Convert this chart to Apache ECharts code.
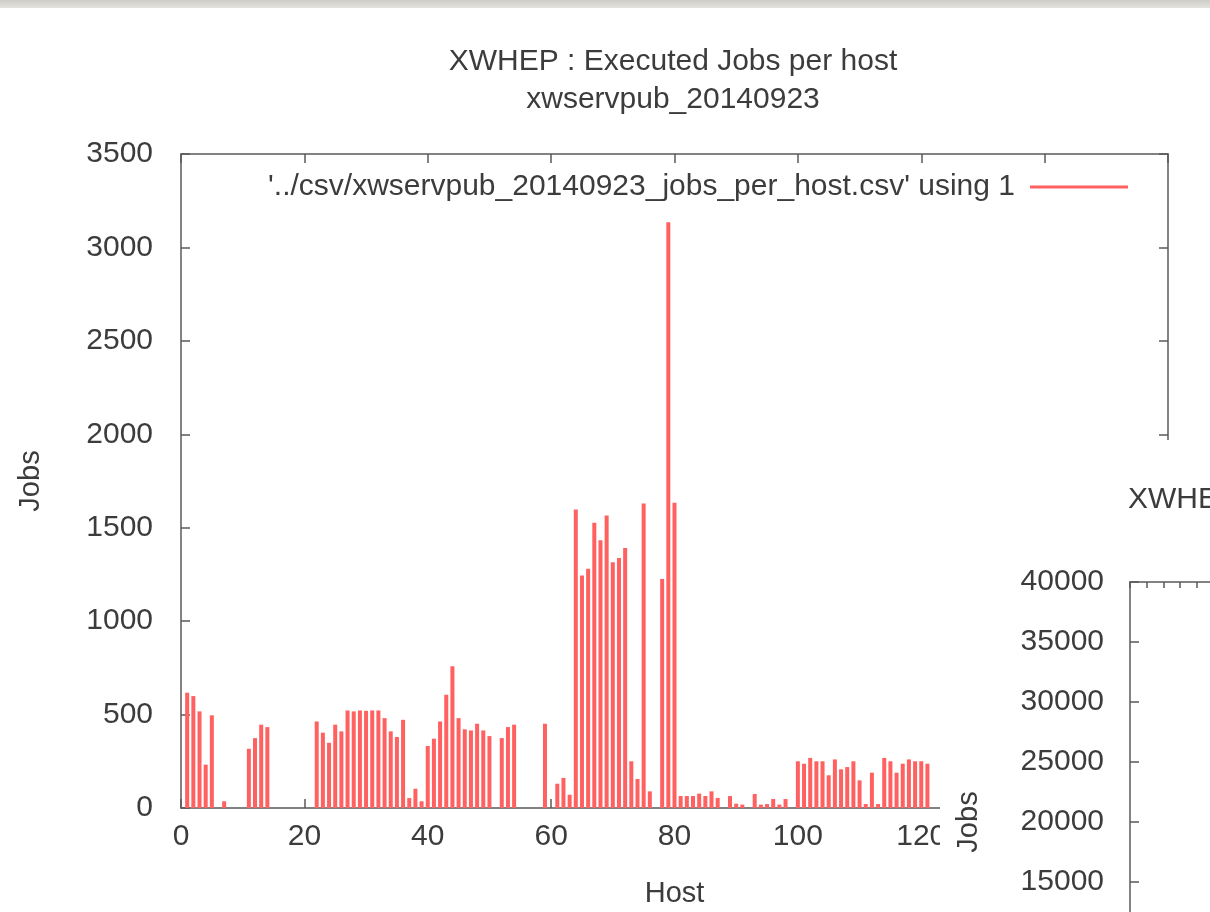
<!DOCTYPE html>
<html>
<head>
<meta charset="utf-8">
<script src="https://cdn.jsdelivr.net/npm/echarts@6/dist/echarts.min.js"></script>
<style>
html,body{margin:0;padding:0;background:#fff;}
#chart{width:1210px;height:912px;}
</style>
</head>
<body>
<div id="chart"></div>
<script>
// ---- data ----
var hosts = [1,2,3,4,5,7,11,12,13,14,22,23,24,25,26,27,28,29,30,31,32,33,34,35,36,37,38,39,40,41,42,43,44,45,46,47,48,49,50,52,53,54,59,61,62,63,64,65,66,67,68,69,70,71,72,73,74,75,76,78,79,80,81,82,83,84,85,86,87,89,90,91,93,94,95,96,97,98,100,101,102,103,104,105,106,107,108,109,110,111,112,113,114,115,116,117,118,119,120,121];
var jobs  = [617,599,517,232,496,36,317,374,446,433,463,403,349,446,410,522,517,522,520,522,522,481,410,380,472,53,103,36,332,371,463,606,759,481,421,415,451,415,385,374,433,446,451,130,161,71,1597,1244,1280,1526,1433,1565,1315,1338,1392,250,155,1629,89,1226,3135,1633,64,64,64,77,64,89,54,64,23,18,75,18,21,48,18,48,250,237,268,250,250,175,260,207,219,250,148,21,189,21,268,250,189,237,260,250,250,237];
var seriesName = "'../csv/xwservpub_20140923_jobs_per_host.csv' using 1";
var mainTitle = 'XWHEP : Executed Jobs per host';
var subTitle = 'xwservpub_20140923';
var xAxisName = 'Host';
var yAxisName = 'Jobs';
var secondTitle = 'XWHEP : Executed Jobs per user';
var secondYName = 'Jobs';

var FONT = 'Liberation Sans';
var TXT = '#3c3c3c';
var AX = {color:'#5a5a5a', width:1.5};
var plain = function(v){ return String(v); };

var pairs = hosts.map(function(h,i){ return [h, jobs[i]]; });

var chart = echarts.init(document.getElementById('chart'));
chart.setOption({
  backgroundColor:'#ffffff',
  animation:false,
  textStyle:{fontFamily:FONT},
  title:[
    {text: mainTitle + '\n' + subTitle, left:668, top:38, textAlign:'center',
     textStyle:{fontFamily:FONT, fontSize:30, fontWeight:'normal', color:TXT, lineHeight:38}},
    {text: secondTitle, left:1123, top:480, z:120,
     textStyle:{fontFamily:FONT, fontSize:30, fontWeight:'normal', color:TXT}}
  ],
  legend:{
    data:[seriesName], right:82, top:172, align:'right', icon:'rect', padding:0,
    itemWidth:98, itemHeight:3,
    textStyle:{fontFamily:FONT, fontSize:30, color:TXT, padding:[0,10,0,0]}
  },
  grid:[
    {left:181, top:154, width:987, height:654, outerBoundsMode:'none', containLabel:false},
    {left:1130, top:582, width:400, height:480, outerBoundsMode:'none', containLabel:false}
  ],
  xAxis:[
    {gridIndex:0, type:'value', position:'bottom', min:0, max:160, interval:20,
     axisLine:{show:true, onZero:false, lineStyle:AX}, axisTick:{show:true, inside:true, length:9, lineStyle:AX},
     axisLabel:{fontFamily:FONT, fontSize:30, color:TXT, margin:14, formatter:plain},
     splitLine:{show:false},
     name:xAxisName, nameLocation:'middle', nameGap:71,
     nameTextStyle:{fontFamily:FONT, fontSize:29, color:TXT}},
    {gridIndex:0, type:'value', position:'top', min:0, max:160, interval:20,
     axisLine:{show:true, onZero:false, lineStyle:AX}, axisTick:{show:true, inside:true, length:9, lineStyle:AX},
     axisLabel:{show:false}, splitLine:{show:false}},
    {gridIndex:1, type:'value', position:'top', min:0, max:24, interval:1, z:110,
     axisLine:{show:true, onZero:false, lineStyle:AX}, axisTick:{show:true, inside:true, length:6, lineStyle:AX},
     axisLabel:{show:false}, splitLine:{show:false}}
  ],
  yAxis:[
    {gridIndex:0, type:'value', position:'left', min:0, max:3500, interval:500,
     axisLine:{show:true, onZero:false, lineStyle:AX}, axisTick:{show:true, inside:true, length:9, lineStyle:AX},
     axisLabel:{fontFamily:FONT, fontSize:30, color:TXT, margin:28, formatter:plain},
     splitLine:{show:false},
     name:yAxisName, nameLocation:'middle', nameGap:136,
     nameTextStyle:{fontFamily:FONT, fontSize:29, color:TXT}},
    {gridIndex:0, type:'value', position:'right', min:0, max:3500, interval:500,
     axisLine:{show:true, onZero:false, lineStyle:AX}, axisTick:{show:true, inside:true, length:9, lineStyle:AX},
     axisLabel:{show:false}, splitLine:{show:false}},
    {gridIndex:1, type:'value', position:'left', min:0, max:40000, interval:5000, z:110,
     axisLine:{show:true, onZero:false, lineStyle:AX}, axisTick:{show:true, inside:true, length:9, lineStyle:AX},
     axisLabel:{fontFamily:FONT, fontSize:30, color:TXT, margin:26, formatter:plain},
     splitLine:{show:false},
     name:secondYName, nameLocation:'middle', nameGap:147,
     nameTextStyle:{fontFamily:FONT, fontSize:29, color:TXT}}
  ],
  graphic:[
    {type:'rect', z:100, shape:{x:940, y:440, width:270, height:472},
     style:{fill:'#ffffff'}},
    {type:'rect', z:100, shape:{x:0, y:0, width:1210, height:8},
     style:{fill:new echarts.graphic.LinearGradient(0,0,0,1,[{offset:0,color:'#cfcdc8'},{offset:1,color:'#e4e2de'}])}}
  ],
  series:[
    {name:seriesName, type:'bar', xAxisIndex:0, yAxisIndex:0, data:pairs,
     barWidth:4, itemStyle:{color:'#ff6060'}, z:2}
  ]
});
</script>
</body>
</html>
